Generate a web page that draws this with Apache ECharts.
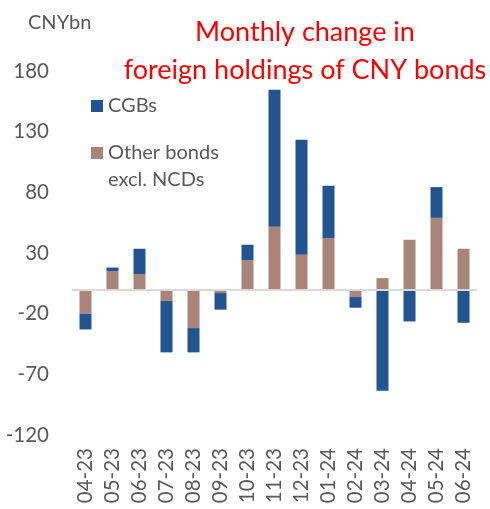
<!DOCTYPE html>
<html><head><meta charset="utf-8">
<script src="https://cdn.jsdelivr.net/npm/echarts@6/dist/echarts.min.js"></script>
<style>html,body{margin:0;padding:0;background:#fff}#c{width:490px;height:509px}</style>
</head><body><div id="c"></div>
<script>
const categories = ['04-23','05-23','06-23','07-23','08-23','09-23','10-23','11-23','12-23','01-24','02-24','03-24','04-24','05-24','06-24'];
const otherBonds = [-20, 15, 12.6, -9.6, -31.9, -3, 24.2, 51.6, 28.6, 42.3, -6.3, 9.3, 40.9, 59, 33.5];
const cgbs = [-13, 3, 20.9, -42.3, -20, -13.7, 12.6, 112.9, 94.8, 43.1, -8.8, -83.5, -26.4, 25.3, -27.5];
const yTicks = [-120, -70, -20, 30, 80, 130, 180];

const FONT = 'Lato';
const chart = echarts.init(document.getElementById('c'), null, {renderer: 'canvas'});
chart.setOption({
  animation: false,
  backgroundColor: '#ffffff',
  textStyle: {fontFamily: FONT},
  title: [
    {text: 'Monthly change in\nforeign holdings of CNY bonds', left: 300, top: 8, textAlign: 'center',
     textStyle: {color: '#ff0000', fontSize: 27, fontWeight: 'normal', fontFamily: FONT, lineHeight: 38}},
    {text: 'CNYbn', left: 23, top: 8,
     textStyle: {color: '#595959', fontSize: 20, fontWeight: 'normal', fontFamily: FONT}}
  ],
  legend: {
    orient: 'vertical', left: 91, top: 94, padding: 0,
    itemWidth: 12, itemHeight: 12, itemGap: 23,
    icon: 'rect',
    data: ['CGBs', 'Other bonds excl. NCDs'],
    formatter: function (n) { return n === 'CGBs' ? 'CGBs' : 'Other bonds'; },
    textStyle: {color: '#595959', fontSize: 20, fontFamily: FONT, lineHeight: 24, padding: [0,0,0,0]}
  },
  graphic: [
    {type: 'text', left: 108, top: 170, style: {text: 'excl. NCDs', fill: '#595959', font: '20px ' + FONT}}
  ],
  grid: {left: 72, right: 13, top: 71, bottom: 74},
  xAxis: {
    type: 'category', data: categories,
    axisLine: {show: false, onZero: false},
    axisTick: {show: false},
    axisLabel: {rotate: 90, color: '#595959', fontSize: 20.5, fontFamily: FONT, margin: 13, interval: 0}
  },
  yAxis: {
    type: 'value', min: -120, max: 180, interval: 50,
    axisLine: {show: false}, axisTick: {show: false}, splitLine: {show: false},
    axisLabel: {color: '#595959', fontSize: 20.5, fontFamily: FONT, margin: 23,
      customValues: yTicks}
  },
  series: [
    {name: 'Other bonds excl. NCDs', type: 'bar', stack: 'pos', barWidth: 12,
     itemStyle: {color: '#a88578'}, data: otherBonds,
     markLine: {silent: true, symbol: 'none', label: {show: false},
       lineStyle: {color: '#d9d9d9', width: 2, type: 'solid'}, data: [{yAxis: 0}]},
     stackStrategy: 'samesign', z: 3},
    {name: 'CGBs', type: 'bar', stack: 'pos', barWidth: 12,
     itemStyle: {color: '#22548f'}, data: cgbs, stackStrategy: 'samesign', z: 3}
  ]
});
</script>
</body></html>
